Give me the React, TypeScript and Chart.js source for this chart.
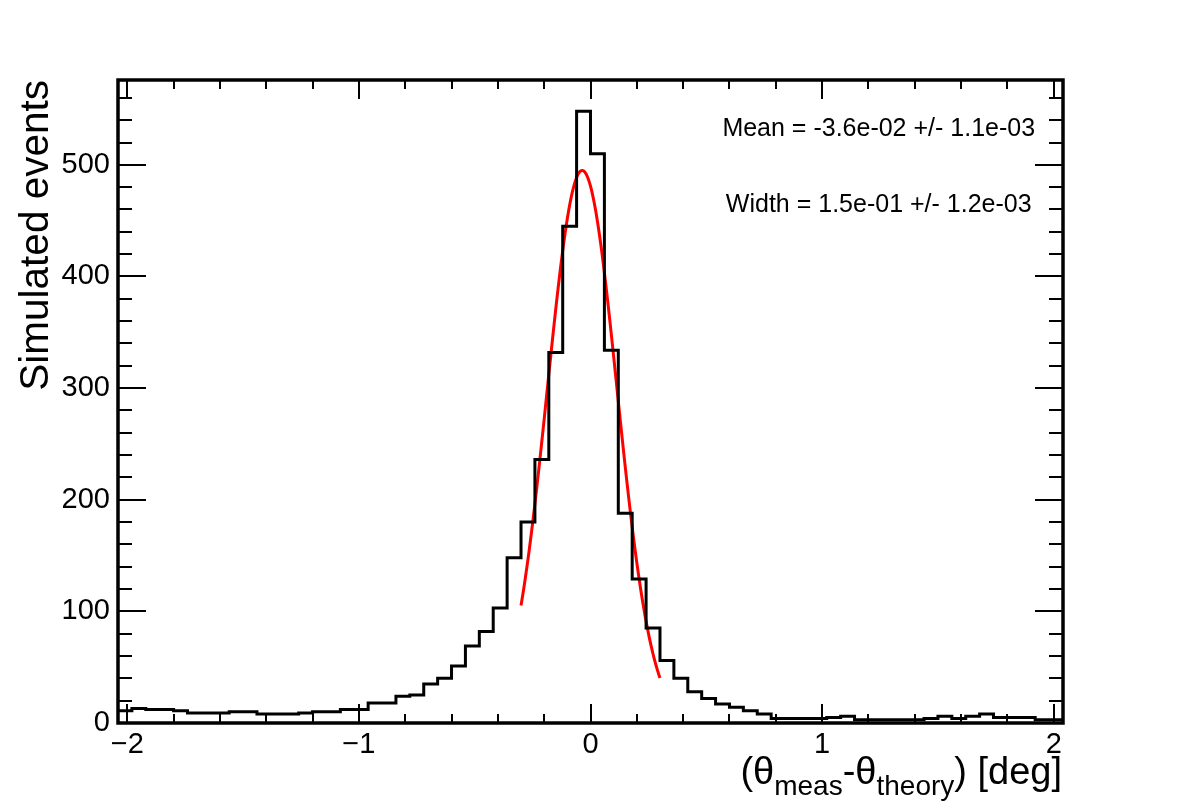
import React, { useEffect, useRef } from "react";
import { Chart, registerables } from "chart.js";

Chart.register(...registerables);

// Histogram binning: 68 bins of width 0.06 deg starting at -2.04 deg
const BIN_LOW = -2.04;
const BIN_WIDTH = 0.06;
const COUNTS = [
  11, 13, 12, 12, 11, 9, 9, 9, 10, 10,
  8, 8, 8, 9, 10, 10, 12, 12, 18, 18,
  24, 25, 35, 40, 51, 69, 82, 103, 148, 180,
  236, 332, 445, 548, 510, 334, 188, 129, 85, 56,
  40, 28, 22, 17, 14, 11, 8, 4, 4, 4,
  4, 5, 6, 3, 3, 3, 3, 3, 4, 6,
  4, 6, 8, 5, 5, 5, 3, 3,
];

// Gaussian fit result
const FIT_MEAN = -0.036;
const FIT_MEAN_ERR = 0.0011;
const FIT_WIDTH = 0.15;
const FIT_WIDTH_ERR = 0.0012;
const FIT_PEAK = 495;
const FIT_RANGE = [-0.3, 0.3];
const FIT_SAMPLES = 120;

// Axis ranges and ticks
const X_MIN = -2.04;
const X_MAX = 2.04;
const Y_MIN = 0;
const Y_MAX = 576;
const X_MAJOR_TICKS = [-2, -1, 0, 1, 2];
const X_MINOR_TICKS = [
  -1.8, -1.6, -1.4, -1.2, -0.8, -0.6, -0.4, -0.2,
  0.2, 0.4, 0.6, 0.8, 1.2, 1.4, 1.6, 1.8,
];
const Y_MAJOR_TICKS = [0, 100, 200, 300, 400, 500];
const Y_MINOR_TICKS = [
  20, 40, 60, 80, 120, 140, 160, 180, 220, 240, 260, 280,
  320, 340, 360, 380, 420, 440, 460, 480, 520, 540, 560,
];

const Y_TITLE = "Simulated events";
const X_TITLE_PARTS = [
  { text: "(θ", sub: false },
  { text: "meas", sub: true },
  { text: "-θ", sub: false },
  { text: "theory", sub: true },
  { text: ") [deg]", sub: false },
];

const FONT = "'Liberation Sans', Arial, Helvetica, sans-serif";

function fmtExp(v: number): string {
  const [m, e] = v.toExponential(1).split("e");
  const n = parseInt(e, 10);
  const sign = n < 0 ? "-" : "+";
  return `${m}e${sign}${String(Math.abs(n)).padStart(2, "0")}`;
}

const STATS_LINES = [
  `Mean = ${fmtExp(FIT_MEAN)} +/- ${fmtExp(FIT_MEAN_ERR)}`,
  `Width = ${fmtExp(FIT_WIDTH)} +/- ${fmtExp(FIT_WIDTH_ERR)}`,
];

// Outline of the histogram: each bin contributes its left and right corner
function histogramOutline() {
  const pts: { x: number; y: number }[] = [];
  COUNTS.forEach((c, i) => {
    const lo = BIN_LOW + i * BIN_WIDTH;
    pts.push({ x: lo, y: c });
    pts.push({ x: lo + BIN_WIDTH, y: c });
  });
  return pts;
}

// Fitted Gaussian evaluated over the fit range
function fitCurve() {
  const pts: { x: number; y: number }[] = [];
  const [a, b] = FIT_RANGE;
  for (let i = 0; i <= FIT_SAMPLES; i++) {
    const x = a + ((b - a) * i) / FIT_SAMPLES;
    const z = (x - FIT_MEAN) / FIT_WIDTH;
    pts.push({ x, y: FIT_PEAK * Math.exp(-0.5 * z * z) });
  }
  return pts;
}

// Frame, inward ticks on all four sides, axis titles and fit summary
const framePlugin = {
  id: "rootFrame",
  afterDatasetsDraw(chart: any) {
    const { ctx, chartArea: a, scales } = chart;
    const xs = scales.x;
    const ys = scales.y;
    ctx.save();
    ctx.strokeStyle = "#000";
    ctx.lineCap = "butt";

    ctx.lineWidth = 2;
    ctx.beginPath();
    const xTick = (v: number, len: number) => {
      const px = Math.round(xs.getPixelForValue(v));
      ctx.moveTo(px, a.bottom);
      ctx.lineTo(px, a.bottom - len);
      ctx.moveTo(px, a.top);
      ctx.lineTo(px, a.top + len);
    };
    const yTick = (v: number, len: number) => {
      const py = Math.round(ys.getPixelForValue(v));
      ctx.moveTo(a.left, py);
      ctx.lineTo(a.left + len, py);
      ctx.moveTo(a.right, py);
      ctx.lineTo(a.right - len, py);
    };
    X_MAJOR_TICKS.forEach((v) => xTick(v, 19));
    X_MINOR_TICKS.forEach((v) => xTick(v, 9));
    Y_MAJOR_TICKS.forEach((v) => yTick(v, 28));
    Y_MINOR_TICKS.forEach((v) => yTick(v, 14));
    ctx.stroke();

    ctx.lineWidth = 3.5;
    ctx.strokeRect(a.left, a.top, a.right - a.left, a.bottom - a.top);

    ctx.fillStyle = "#000";

    // y-axis title, right-aligned to the top of the axis
    ctx.save();
    ctx.translate(37, a.top);
    ctx.rotate(-Math.PI / 2);
    ctx.font = `40.5px ${FONT}`;
    ctx.textAlign = "right";
    ctx.textBaseline = "middle";
    ctx.fillText(Y_TITLE, 0, 0);
    ctx.restore();

    // x-axis title with subscripts, right-aligned to the end of the axis
    const mainFont = `38px ${FONT}`;
    const subFont = `28px ${FONT}`;
    ctx.textAlign = "left";
    ctx.textBaseline = "alphabetic";
    let total = 0;
    const widths = X_TITLE_PARTS.map((p) => {
      ctx.font = p.sub ? subFont : mainFont;
      const w = ctx.measureText(p.text).width;
      total += w;
      return w;
    });
    let x = a.right - 1 - total;
    const base = a.bottom + 61;
    X_TITLE_PARTS.forEach((p, i) => {
      ctx.font = p.sub ? subFont : mainFont;
      ctx.fillText(p.text, x, p.sub ? base + 11 : base);
      x += widths[i];
    });

    // fit summary
    ctx.font = `25px ${FONT}`;
    ctx.textAlign = "center";
    const cx = a.left + 0.805 * (a.right - a.left);
    ctx.fillText(STATS_LINES[0], cx, a.top + 56);
    ctx.fillText(STATS_LINES[1], cx, a.top + 132);

    ctx.restore();
  },
};

export default function App() {
  const canvasRef = useRef<HTMLCanvasElement | null>(null);

  useEffect(() => {
    const canvas = canvasRef.current;
    if (!canvas) return;
    const chart = new Chart(canvas, {
      type: "line",
      data: {
        datasets: [
          {
            label: "histogram",
            data: histogramOutline(),
            borderColor: "#000000",
            borderWidth: 3,
            pointRadius: 0,
            tension: 0,
            fill: false,
            borderJoinStyle: "miter",
          },
          {
            label: "fit",
            data: fitCurve(),
            borderColor: "#ff0000",
            borderWidth: 3,
            pointRadius: 0,
            tension: 0,
            fill: false,
          },
        ],
      },
      options: {
        animation: false,
        responsive: false,
        devicePixelRatio: 1,
        parsing: false,
        normalized: true,
        layout: { padding: { left: 0, top: 80, right: 119, bottom: 0 } },
        plugins: {
          legend: { display: false },
          tooltip: { enabled: false },
        },
        scales: {
          x: {
            type: "linear",
            min: X_MIN,
            max: X_MAX,
            grid: { display: false, drawTicks: false },
            border: { display: false },
            afterBuildTicks: (s: any) => {
              s.ticks = X_MAJOR_TICKS.map((value) => ({ value }));
            },
            afterFit: (s: any) => {
              s.height = 82;
            },
            ticks: {
              autoSkip: false,
              maxRotation: 0,
              padding: 5,
              color: "#000",
              font: { family: FONT, size: 29 },
              callback: (v: any) => String(v).replace("-", "\u2212"),
            },
          },
          y: {
            type: "linear",
            min: Y_MIN,
            max: Y_MAX,
            grid: { display: false, drawTicks: false },
            border: { display: false },
            afterBuildTicks: (s: any) => {
              s.ticks = Y_MAJOR_TICKS.map((value) => ({ value }));
            },
            afterFit: (s: any) => {
              s.width = 118;
            },
            ticks: {
              padding: 8,
              color: "#000",
              font: { family: FONT, size: 29 },
            },
          },
        },
      },
      plugins: [framePlugin],
    });
    return () => chart.destroy();
  }, []);

  return (
    <div style={{ position: "absolute", left: 0, top: 0, width: 1182, height: 805, background: "#fff" }}>
      <canvas ref={canvasRef} width={1182} height={805} />
    </div>
  );
}
